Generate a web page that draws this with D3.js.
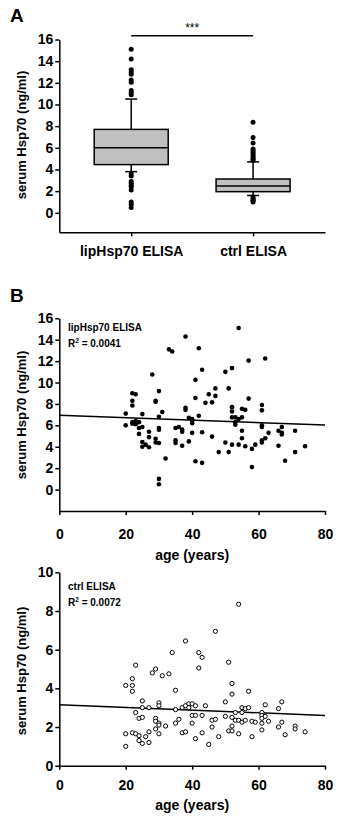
<!DOCTYPE html>
<html>
<head>
<meta charset="utf-8">
<script src="https://cdn.jsdelivr.net/npm/d3@7"></script>
<style>
body { margin: 0; background: #fff; }
svg { display: block; font-family: Arial, "Liberation Sans", sans-serif; }
</style>
</head>
<body>
<svg id="fig" width="341" height="821"></svg>
<script>
// ---- panel A: box plots
var groups = ["lipHsp70 ELISA", "ctrl ELISA"];
var boxQ1 = [4.45, 1.95];
var boxMed = [6.0, 2.48];
var boxQ3 = [7.7, 3.12];
var whiskLo = [3.8, 1.6];
var whiskHi = [10.5, 4.7];
var outLip = [15.1, 14.2, 13.2, 13.0, 12.8, 12.25, 12.05, 11.3, 11.1, 10.9,
              3.6, 3.4, 2.9, 2.7, 2.5, 2.4, 2.1, 1.0, 0.8, 0.5];
var outCtrl = [8.35, 6.95, 6.45, 5.9, 5.75, 5.6, 5.4, 5.25, 5.1, 4.95, 4.85,
               1.45, 1.3, 1.2, 1.1, 1.0];
var ticksA = [0, 2, 4, 6, 8, 10, 12, 14, 16];

// ---- panel B: lipHsp70 ELISA vs age
var ageB = [20, 20, 22, 23, 22, 22, 22, 23, 24, 23, 22, 24, 24, 25, 25, 25, 25, 26, 27, 27,
            27, 28, 29, 29, 29, 29, 30, 30, 30, 30, 30, 30, 30, 31, 32, 33, 34, 35, 35, 35,
            36, 37, 37, 37, 38, 38, 38, 39, 39, 40, 40, 40, 40, 41, 41, 41, 42, 42, 43, 43,
            43, 44, 45, 46, 46, 47, 47, 48, 50, 50, 51, 51, 52, 52, 52, 52, 52, 53, 53, 53,
            54, 54, 54, 55, 55, 55, 55, 56, 56, 57, 57, 58, 58, 59, 61, 61, 61, 61, 61, 61,
            62, 62, 63, 66, 66, 67, 67, 67, 68, 71, 71, 74];
var hspB = [7.1, 6.0, 9.0, 8.9, 8.3, 7.85, 6.3, 6.4, 6.3, 6.1, 6.15, 5.75, 5.2, 7.05, 5.85, 4.45, 4.0, 4.2, 5.4, 4.9,
            3.95, 10.75, 8.3, 8.2, 4.75, 4.4, 9.2, 6.8, 5.75, 5.6, 4.35, 1.0, 0.5, 7.25, 2.9, 13.1, 12.9, 5.75, 4.6, 4.35,
            5.85, 5.6, 5.4, 4.1, 14.3, 7.65, 7.45, 6.7, 4.5, 6.6, 6.4, 6.2, 5.3, 10.25, 8.55, 2.65, 13.2, 6.9, 11.2, 5.35,
            2.5, 8.1, 8.9, 8.15, 4.95, 9.45, 8.75, 3.5, 11.0, 4.4, 9.45, 3.5, 11.35, 7.7, 7.3, 6.75, 4.2, 6.75, 6.05, 6.3,
            15.1, 6.6, 4.2, 7.55, 6.75, 5.5, 4.8, 7.45, 4.05, 12.05, 8.5, 3.8, 2.1, 4.2, 7.9, 7.4, 6.0, 5.85, 4.4, 4.6,
            12.25, 4.8, 5.3, 5.5, 4.1, 5.85, 5.3, 5.15, 2.7, 5.5, 3.5, 4.05];
var fitB = [6.95, -0.0115];   // intercept, slope
var ticksB = [0, 2, 4, 6, 8, 10, 12, 14, 16];

// ---- panel C: ctrl ELISA vs age
var ageC = [20, 20, 20, 22, 22, 22, 22, 23, 23, 23, 24, 24, 24, 25, 25, 25, 25, 26, 27, 27,
            27, 28, 29, 29, 29, 29, 30, 30, 30, 30, 30, 31, 32, 33, 34, 35, 35, 35, 36, 37,
            37, 38, 38, 38, 39, 39, 40, 40, 40, 41, 41, 41, 42, 42, 43, 43, 43, 44, 45, 46,
            46, 47, 47, 48, 50, 50, 51, 51, 52, 52, 52, 52, 52, 53, 53, 54, 54, 54, 55, 55,
            55, 56, 56, 57, 57, 58, 58, 59, 61, 61, 61, 61, 61, 62, 62, 63, 66, 66, 67, 67,
            68, 71, 71, 74];
var hspC = [4.15, 1.65, 1.0, 4.5, 4.15, 3.85, 1.7, 5.2, 2.75, 1.65, 2.45, 1.55, 1.3, 3.35, 3.0, 2.5, 1.15, 1.5, 3.0, 1.75,
            1.2, 4.8, 5.0, 2.45, 2.3, 1.9, 3.25, 3.1, 2.2, 2.1, 1.65, 4.65, 2.05, 4.75, 5.85, 3.9, 2.9, 2.2, 2.4, 3.0,
            1.7, 6.45, 3.1, 1.75, 3.2, 3.0, 3.2, 2.6, 2.2, 3.1, 2.6, 1.4, 5.85, 5.05, 5.6, 2.6, 1.7, 3.1, 1.1, 2.35,
            2.0, 6.95, 2.4, 1.5, 3.3, 2.55, 5.35, 1.8, 4.25, 3.7, 2.5, 2.05, 1.8, 2.75, 2.35, 8.35, 2.35, 1.65, 3.0, 2.75,
            2.25, 2.95, 2.35, 3.85, 3.0, 2.3, 1.5, 2.25, 2.75, 2.6, 2.45, 2.2, 1.85, 3.15, 2.55, 2.3, 2.95, 2.0, 3.3, 2.25,
            1.6, 2.05, 1.9, 1.75];
var fitC = [3.15, -0.0069];
var ticksC = [0, 2, 4, 6, 8, 10];
var ticksAge = [0, 20, 40, 60, 80];

var svg = d3.select("#fig");
var axL = 59.3, axR = 325;

function styleAxis(g) {
    g.select(".domain").attr("stroke", "#000").attr("stroke-width", 1.5);
    g.selectAll(".tick line").attr("stroke", "#000").attr("stroke-width", 1.5);
    g.selectAll(".tick text")
        .attr("fill", "#000")
        .style("font-size", "14px")
        .style("font-weight", "bold")
        .style("font-family", "Arial, 'Liberation Sans', sans-serif");
}

function yTitle(cy) {
    svg.append("text")
        .attr("transform", `translate(26,${cy}) rotate(-90)`)
        .attr("text-anchor", "middle")
        .style("font-size", "13px")
        .style("font-weight", "bold")
        .text("serum Hsp70 (ng/ml)");
}

function panelLabel(t, y) {
    svg.append("text")
        .attr("x", 10).attr("y", y)
        .style("font-size", "19px")
        .style("font-weight", "bold")
        .text(t);
}

// ================= panel A
panelLabel("A", 22);

var yA = d3.scaleLinear().domain([-1.8, 16]).range([232.3, 39.5]);
var xA = d3.scalePoint().domain(groups).range([axL, axR]).padding(0.59);

svg.append("g")
    .attr("transform", `translate(${axL},0)`)
    .call(d3.axisLeft(yA).tickValues(ticksA).tickSize(4).tickPadding(2).tickSizeOuter(0))
    .call(styleAxis);

svg.append("g")
    .attr("transform", `translate(0,${yA(-1.8)})`)
    .call(d3.axisBottom(xA).tickSize(4).tickPadding(10).tickSizeOuter(0))
    .call(styleAxis);

yTitle(135);

var boxes = groups.map((g, i) => ({
    g: g, q1: boxQ1[i], med: boxMed[i], q3: boxQ3[i], lo: whiskLo[i], hi: whiskHi[i],
    out: i === 0 ? outLip : outCtrl
}));
var boxW = 74, capW = 12;

var bg = svg.selectAll(".bx").data(boxes).enter().append("g").attr("class", "bx");

bg.append("line")
    .attr("x1", d => xA(d.g)).attr("x2", d => xA(d.g))
    .attr("y1", d => yA(d.hi)).attr("y2", d => yA(d.lo))
    .attr("stroke", "#000").attr("stroke-width", 1.5);

bg.append("line")
    .attr("x1", d => xA(d.g) - capW / 2).attr("x2", d => xA(d.g) + capW / 2)
    .attr("y1", d => yA(d.hi)).attr("y2", d => yA(d.hi))
    .attr("stroke", "#000").attr("stroke-width", 1.5);

bg.append("line")
    .attr("x1", d => xA(d.g) - capW / 2).attr("x2", d => xA(d.g) + capW / 2)
    .attr("y1", d => yA(d.lo)).attr("y2", d => yA(d.lo))
    .attr("stroke", "#000").attr("stroke-width", 1.5);

bg.append("rect")
    .attr("x", d => xA(d.g) - boxW / 2)
    .attr("y", d => yA(d.q3))
    .attr("width", boxW)
    .attr("height", d => yA(d.q1) - yA(d.q3))
    .attr("fill", "#c0c0c0")
    .attr("stroke", "#000").attr("stroke-width", 1.5);

bg.append("line")
    .attr("x1", d => xA(d.g) - boxW / 2).attr("x2", d => xA(d.g) + boxW / 2)
    .attr("y1", d => yA(d.med)).attr("y2", d => yA(d.med))
    .attr("stroke", "#000").attr("stroke-width", 1.5);

bg.selectAll("circle")
    .data(d => d.out.map(v => ({ g: d.g, v: v })))
    .enter().append("circle")
    .attr("cx", d => xA(d.g))
    .attr("cy", d => yA(d.v))
    .attr("r", 2.5)
    .attr("fill", "#000");

// significance bar
svg.append("line")
    .attr("x1", xA(groups[0])).attr("x2", xA(groups[1]))
    .attr("y1", 35.7).attr("y2", 35.7)
    .attr("stroke", "#000").attr("stroke-width", 1.5);
svg.append("text")
    .attr("x", (xA(groups[0]) + xA(groups[1])) / 2)
    .attr("y", 32)
    .attr("text-anchor", "middle")
    .style("font-size", "12px")
    .text("***");

// ================= scatter panels
function scatter(opts) {
    var x = d3.scaleLinear().domain([0, 80]).range([axL, axR]);
    var y = d3.scaleLinear().domain(opts.ydom).range(opts.yrange);

    svg.append("g")
        .attr("transform", `translate(${axL},0)`)
        .call(d3.axisLeft(y).tickValues(opts.ticks).tickSize(4).tickPadding(2).tickSizeOuter(0))
        .call(styleAxis);

    svg.append("g")
        .attr("transform", `translate(0,${opts.yrange[0]})`)
        .call(d3.axisBottom(x).tickValues(ticksAge).tickSize(4).tickPadding(opts.xpad).tickSizeOuter(0))
        .call(styleAxis);

    svg.append("text")
        .attr("x", (axL + axR) / 2)
        .attr("y", opts.xtitleY)
        .attr("text-anchor", "middle")
        .style("font-size", "14px")
        .style("font-weight", "bold")
        .text("age (years)");

    yTitle(opts.ytitleY);

    svg.append("line")
        .attr("x1", x(0)).attr("x2", x(80))
        .attr("y1", y(opts.fit[0])).attr("y2", y(opts.fit[0] + opts.fit[1] * 80))
        .attr("stroke", "#000").attr("stroke-width", 1.5);

    svg.append("g").selectAll("circle")
        .data(d3.zip(opts.age, opts.val))
        .enter().append("circle")
        .attr("cx", d => x(d[0]))
        .attr("cy", d => y(d[1]))
        .attr("r", opts.open ? 2.1 : 2.3)
        .attr("fill", opts.open ? "#fff" : "#000")
        .attr("stroke", "#000")
        .attr("stroke-width", opts.open ? 1 : 0);

    svg.append("text")
        .attr("x", 68).attr("y", opts.annY)
        .style("font-size", "10px").style("font-weight", "bold")
        .text(opts.name);

    var r2 = svg.append("text")
        .attr("x", 68).attr("y", opts.annY + 16)
        .style("font-size", "10px").style("font-weight", "bold");
    r2.append("tspan").text("R");
    r2.append("tspan").attr("dy", -4).style("font-size", "6.5px").text("2");
    r2.append("tspan").attr("dy", 4).text(" = " + opts.r2);
}

panelLabel("B", 302);

scatter({
    age: ageB, val: hspB, fit: fitB, ticks: ticksB,
    ydom: [-2, 16], yrange: [511, 318.3],
    xpad: 14, xtitleY: 560, ytitleY: 415,
    open: false, name: "lipHsp70 ELISA", r2: "0.0041", annY: 331
});

scatter({
    age: ageC, val: hspC, fit: fitC, ticks: ticksC,
    ydom: [0, 10], yrange: [765.7, 572.3],
    xpad: 10, xtitleY: 810, ytitleY: 671,
    open: true, name: "ctrl ELISA", r2: "0.0072", annY: 590
});
</script>
</body>
</html>
